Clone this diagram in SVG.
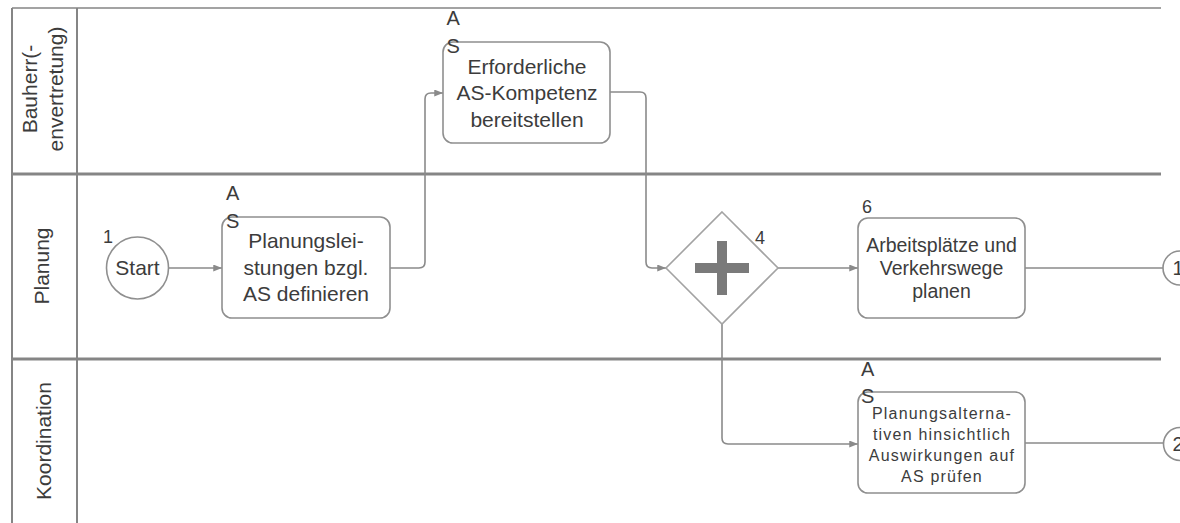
<svg xmlns="http://www.w3.org/2000/svg" width="1180" height="523" viewBox="0 0 1180 523">
<style>
  text { font-family: "Liberation Sans", Arial, sans-serif; fill: #3c3c3c; }
  .lane { font-size: 21px; text-anchor: middle; }
  .task { fill: #ffffff; stroke: #8f8f8f; stroke-width: 1.6; }
  .t21 { font-size: 21px; text-anchor: middle; }
  .t19 { font-size: 19.5px; text-anchor: middle; }
  .t16 { font-size: 16px; text-anchor: middle; letter-spacing: 1.2px; }
  .as { font-size: 20px; }
  .num { font-size: 18px; }
  .pool { stroke: #858585; fill: none; }
  .conn { stroke: #8a8a8a; stroke-width: 1.6; fill: none; }
</style>
<defs>
  <marker id="arr" viewBox="0 0 10 8" refX="10" refY="4" markerWidth="9" markerHeight="7" markerUnits="userSpaceOnUse" orient="auto">
    <path d="M0,0 L10,4 L0,8 z" fill="#8a8a8a"/>
  </marker>
</defs>
<rect width="1180" height="523" fill="#ffffff"/>

<g id="pool">
  <path class="pool" stroke-width="1.6" d="M12,8 H1161"/>
  <path class="pool" stroke-width="2" d="M12,8 V523"/>
  <path class="pool" stroke-width="2" d="M77,8 V523"/>
  <path class="pool" stroke-width="3" d="M12,174 H1161"/>
  <path class="pool" stroke-width="3" d="M12,359 H1161"/>
</g>

<g id="lane-bauherr">
  <text class="lane" transform="translate(37,89) rotate(-90)">Bauherr(-</text>
  <text class="lane" transform="translate(62.5,89) rotate(-90)">envertretung)</text>
</g>
<g id="lane-planung">
  <text class="lane" transform="translate(49,266) rotate(-90)">Planung</text>
</g>
<g id="lane-koordination">
  <text class="lane" transform="translate(51,441) rotate(-90)">Koordination</text>
</g>

<g id="connectors">
  <path class="conn" marker-end="url(#arr)" d="M169,268 H222"/>
  <path class="conn" marker-end="url(#arr)" d="M390,268 H419 Q425,268 425,262 V99 Q425,93 431,93 H443"/>
  <path class="conn" d="M610,92 H640 Q646,92 646,98"/>
  <path class="conn" marker-end="url(#arr)" d="M646,98 V262 Q646,268 652,268 H666"/>
  <path class="conn" marker-end="url(#arr)" d="M778,268 H858"/>
  <path class="conn" marker-end="url(#arr)" d="M722,323 V438 Q722,444 728,444 H858"/>
  <path class="conn" d="M1025,268 H1163"/>
  <path class="conn" d="M1025,443 H1163"/>
</g>

<g id="start">
  <circle cx="137.5" cy="268" r="31" fill="#ffffff" stroke="#8f8f8f" stroke-width="1.6"/>
  <text class="t21" x="137.5" y="275">Start</text>
  <text class="num" x="103" y="243">1</text>
</g>

<g id="task-planungsleistungen">
  <rect class="task" x="222" y="217" width="168" height="101" rx="10"/>
  <text class="t21" x="306" y="248">Planungslei-</text>
  <text class="t21" x="306" y="274.5">stungen bzgl.</text>
  <text class="t21" x="306" y="301">AS definieren</text>
  <text class="as" x="226" y="200">A</text>
  <text class="as" x="226" y="228">S</text>
</g>

<g id="task-kompetenz">
  <rect class="task" x="443" y="42" width="167" height="101" rx="10"/>
  <text class="t21" x="527" y="74">Erforderliche</text>
  <text class="t21" x="527" y="100">AS-Kompetenz</text>
  <text class="t21" x="527" y="126.5">bereitstellen</text>
  <text class="as" x="446.5" y="25">A</text>
  <text class="as" x="446.5" y="53">S</text>
</g>

<g id="gateway">
  <path d="M722,212 L778,268 L722,324 L666,268 Z" fill="#ffffff" stroke="#a3a3a3" stroke-width="1.6"/>
  <rect x="695" y="263" width="54" height="10" fill="#7a7a7a"/>
  <rect x="717" y="241" width="10" height="54" fill="#7a7a7a"/>
  <text class="num" x="755" y="244">4</text>
</g>

<g id="task-arbeitsplaetze">
  <rect class="task" x="858" y="218" width="167" height="100" rx="10"/>
  <text class="t19" x="941.5" y="252">Arbeitsplätze und</text>
  <text class="t19" x="941.5" y="275">Verkehrswege</text>
  <text class="t19" x="941.5" y="298">planen</text>
  <text class="num" x="862" y="213">6</text>
</g>

<g id="task-planungsalternativen">
  <rect class="task" x="858" y="392" width="167" height="101" rx="10"/>
  <text class="t16" x="942" y="419">Planungsalterna-</text>
  <text class="t16" x="942" y="440">tiven hinsichtlich</text>
  <text class="t16" x="942" y="461">Auswirkungen auf</text>
  <text class="t16" x="942" y="482">AS prüfen</text>
  <text class="as" x="861" y="376">A</text>
  <text class="as" x="861" y="403">S</text>
</g>

<g id="link-1">
  <circle cx="1180" cy="268" r="17" fill="#ffffff" stroke="#8f8f8f" stroke-width="1.6"/>
  <text class="t21" x="1178" y="275" style="font-size:20px">1</text>
</g>
<g id="link-2">
  <circle cx="1180" cy="444" r="16.5" fill="#ffffff" stroke="#8f8f8f" stroke-width="1.6"/>
  <text class="t21" x="1178" y="451" style="font-size:20px">2</text>
</g>
</svg>
